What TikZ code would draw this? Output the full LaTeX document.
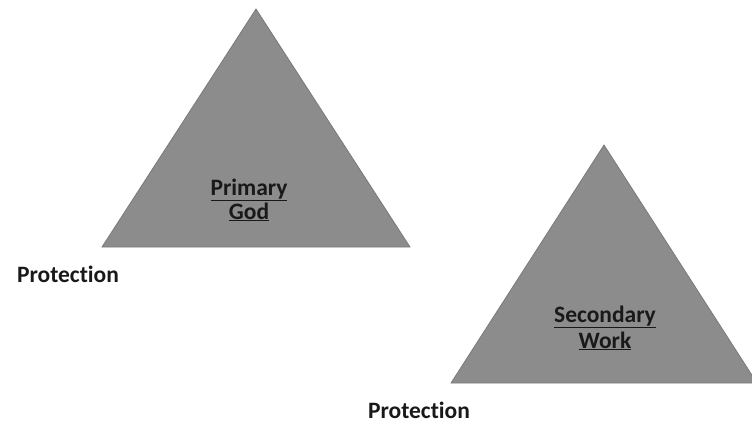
\documentclass[tikz,border=0pt]{standalone}
\usepackage{fontspec}
\setmainfont{Carlito}[Ligatures={NoCommon,NoRare,NoContextual},Contextuals=NoAlternate]
\tikzset{
  tri/.style={fill=black!45, draw=black!52, line width=0.8pt},
  lbl/.style={font=\bfseries\fontsize{23.5}{24}\selectfont, text=black!90, inner sep=0pt, anchor=base},
  inlbl/.style={lbl, align=center}
}
\begin{document}
\begin{tikzpicture}[x=1pt,y=-1pt]
\useasboundingbox (0,0) rectangle (752,424);
\clip (0,0) rectangle (752,424);
\coordinate (pa) at (256,9);
\coordinate (pl) at (102,247);
\coordinate (pr) at (410,247);
\draw[tri] (pa) -- (pl) -- (pr) -- cycle;
\coordinate (sa) at (604,145);
\coordinate (sl) at (451,383);
\coordinate (sr) at (757,383);
\draw[tri] (sa) -- (sl) -- (sr) -- cycle;
\node[inlbl] (prim) at (249,219){\underline{Primary}\\\underline{God}};
\node[inlbl] (sec) at (605,348){\underline{Secondary}\\[2pt]\underline{Work}};
\node[lbl] (prot1) at (68,282){Protection};
\node[lbl] (prot2) at (419,418){Protection};
\end{tikzpicture}
\end{document}
